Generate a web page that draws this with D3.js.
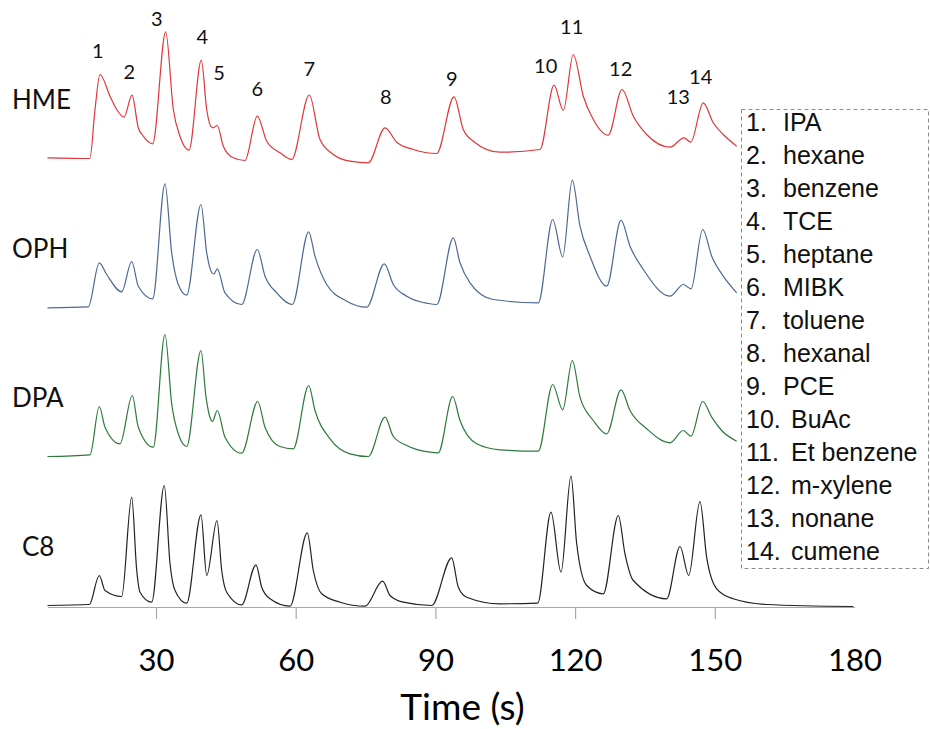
<!DOCTYPE html>
<html>
<head>
<meta charset="utf-8">
<script src="https://cdn.jsdelivr.net/npm/d3@7"></script>
<style>
  html, body { margin: 0; padding: 0; background: #ffffff; }
  svg { display: block; }
</style>
</head>
<body>
<svg id="chart" width="930" height="729"></svg>
<script>
// ---- data -------------------------------------------------------------
// Chromatograms: [time (s), detector signal (a.u., above each trace's baseline)]
const hmeTrace = [[6.7,0.7],[15.8,0],[16.9,49],[17.97,84],[20.12,62.3],[21.56,49],[23.13,41.3],[24.85,63.3],[26.2,30.7],[27.27,22.3],[29.29,14.7],[32.08,126.7],[33.72,49],[35.15,22.3],[37.09,8.3],[39.73,98.3],[40.89,49],[41.75,32.3],[42.3,30.7],[43.16,33],[44.45,12.3],[46.6,0.7],[49.11,-2],[51.75,42.3],[53.77,17.3],[56.63,5.7],[59.14,-1],[62.92,63.5],[65.22,19],[68.07,4],[71.66,-2.7],[75.59,-4.3],[79.18,30.7],[81.69,16.3],[85.25,9],[90.28,5],[93.99,61.7],[95.99,29],[98.14,17.3],[103.87,6.3],[112.46,9],[115.47,73.3],[117.47,48],[119.61,104],[121.76,62.3],[123.91,39],[127.13,23.3],[130.07,69],[132.5,42.3],[135.38,24],[140.38,11.3],[143.39,20.7],[144.83,16.3],[147.52,55.7],[149.67,35.7],[151.82,24],[154.7,12.3]];

const ophTrace = [[6.7,-0.3],[15.46,0.7],[17.82,44.7],[19.41,33],[22.63,15.7],[24.78,46],[26.2,21.3],[29.29,8.7],[31.93,123.7],[33.37,54.7],[34.79,23],[36.59,12.3],[39.66,103],[40.89,54.7],[41.96,35],[42.4,33.5],[43.16,38.7],[44.82,14.7],[48.4,3],[51.75,58],[53.41,31.3],[55.92,14.7],[59.27,3],[62.79,75.7],[64.14,51.3],[66.66,23],[70.95,6.3],[75.25,0.3],[79.03,43.7],[80.96,23],[83.84,11.3],[88.5,4],[90.3,3],[93.84,69.7],[95.28,44.7],[97.43,24.7],[102.43,8],[112.1,4.7],[115.19,88],[117.34,50.7],[119.4,127.3],[121.05,81.3],[123.2,51.3],[126.79,21.3],[129.86,87.3],[131.79,61.3],[134.65,38],[140.38,11.3],[143.24,23],[144.89,18.7],[147.4,78],[149.33,51.3],[151.82,31.3],[154.7,14.7]];

const dpaTrace = [[6.7,0],[15.83,1.7],[17.82,50],[19.05,29.3],[22.27,12.7],[24.91,61],[26.2,29.3],[29.42,9.3],[31.93,122],[33.37,52.7],[34.79,22.7],[36.59,10],[39.66,106],[40.74,59.3],[41.75,37],[42.1,35],[43.16,46],[44.82,19.3],[48.4,3.3],[51.84,55],[53.41,29.3],[56.63,10],[59.48,7.7],[62.79,71],[64.14,46],[67.37,17.7],[71.66,2.7],[75.59,0],[79.18,39.3],[80.96,20],[83.84,11],[88.84,4.3],[90.62,3.7],[93.71,60],[95.28,36],[98.87,12.7],[103.87,6.7],[112.1,5.3],[115.19,72],[117.34,46.7],[119.4,96],[121.05,59.3],[123.91,36],[126.79,22.7],[129.86,66.7],[131.79,46],[135.38,27.7],[140.38,13.7],[143.24,26],[144.89,20.3],[147.4,55],[149.33,39.3],[151.47,26],[154.7,15.3]];

const c8Trace = [[6.7,0],[15.68,1],[17.82,30],[19.05,15],[22.63,9],[24.78,108.3],[25.86,35],[26.56,13.3],[29.08,3.3],[31.78,120],[33.01,41.7],[34.08,15],[36.59,2.3],[39.66,90.7],[40.89,30],[43.1,85],[44.11,35],[45.18,13.3],[48.4,0.7],[51.47,40.7],[52.7,18.3],[54.48,6.7],[58.78,-0.7],[62.49,72.7],[63.78,35],[65.58,11.7],[69.51,3.3],[74.88,-0.7],[78.68,24.3],[80.25,10],[83.11,3.3],[89.2,0],[93.5,47.7],[94.92,18.3],[96.72,8.3],[103.87,1.7],[111.97,2.3],[114.82,93.3],[116.97,33.3],[119.12,129.3],[120.34,61.7],[122.49,20],[126.06,11.7],[129.28,90],[130.71,51.7],[132.5,25],[139.67,6.7],[142.53,59],[144.4,30],[146.82,104],[148.25,48.3],[150.4,16.7],[153.97,6.7],[161.14,1],[179.74,-1]];

const seriesNames = ["HME", "OPH", "DPA", "C8"];
const seriesData = [hmeTrace, ophTrace, dpaTrace, c8Trace];

const compounds = ["IPA", "hexane", "benzene", "TCE", "heptane", "MIBK", "toluene",
                   "hexanal", "PCE", "BuAc", "Et benzene", "m-xylene", "nonane", "cumene"];

// Peak annotations on the HME trace: time (s) and signal level of each number
const peakLabelTimes  = [17.48, 24.27, 30.15, 39.94, 43.53, 51.75, 62.92, 79.33, 93.5, 113.69, 119.27, 129.79, 142.16, 146.97];
const peakLabelLevels = [109, 87.3, 140.7, 122.3, 86.3, 70.7, 90.7, 62.3, 80.7, 93.3, 133, 90.7, 62.3, 83];

const tickValues = [30, 60, 90, 120, 150, 180];
const axisTitle = "Time (s)";

// ---- layout & style ---------------------------------------------------
const svg = d3.select("#chart");
const lineColors = ["#e0363a", "#4d6892", "#2c7a3b", "#222222"];
const baseTop = 158.5, bandStep = 149;      // baseline of first trace, spacing between traces
const axisY = 607;
const labelFont = "Lato, 'Open Sans', sans-serif";

const x = d3.scaleLinear().domain([6.7, 180]).range([47.5, 854.5]);

const yScales = seriesNames.map((_, i) => {
  const base = baseTop + i * bandStep;
  return d3.scaleLinear().domain([0, 100]).range([base, base - 100]);
});

// traces
seriesData.forEach((trace, i) => {
  const y = yScales[i];
  const line = d3.line()
    .x(d => x(d[0]))
    .y(d => y(d[1]))
    .curve(d3.curveMonotoneX);
  svg.append("path")
    .datum(trace)
    .attr("d", line)
    .attr("fill", "none")
    .attr("stroke", lineColors[i])
    .attr("stroke-width", 1.2)
    .attr("stroke-linejoin", "round");
});

// series names
const nameX = [12, 12, 12, 22];
seriesNames.forEach((name, i) => {
  svg.append("text")
    .attr("x", nameX[i])
    .attr("y", yScales[i](60))
    .attr("dominant-baseline", "central")
    .attr("font-family", labelFont)
    .attr("font-size", 26)
    .attr("fill", "#111")
    .text(name);
});

// peak numbers over the top trace
svg.append("g")
  .selectAll("text")
  .data(peakLabelTimes)
  .join("text")
  .attr("x", d => x(d))
  .attr("y", (d, i) => yScales[0](peakLabelLevels[i]))
  .attr("text-anchor", "middle")
  .attr("dominant-baseline", "central")
  .attr("font-family", labelFont)
  .attr("font-size", 20)
  .attr("fill", "#111")
  .text((d, i) => String(i + 1));

// x axis
const axis = d3.axisBottom(x)
  .tickValues(tickValues)
  .tickSizeInner(12)
  .tickSizeOuter(0)
  .tickFormat(d3.format("d"));

const gAxis = svg.append("g")
  .attr("transform", `translate(0,${axisY})`)
  .call(axis);

gAxis.select(".domain").attr("stroke", "#a8a8a8").attr("stroke-width", 1.2);
gAxis.selectAll(".tick line")
  .attr("stroke", "#a8a8a8")
  .attr("stroke-width", 1.2)
  .attr("display", d => d >= 180 ? "none" : null);
gAxis.selectAll(".tick text")
  .attr("y", 64)
  .attr("dy", 0)
  .attr("font-family", labelFont)
  .attr("font-size", 31)
  .attr("fill", "#000");

svg.append("text")
  .attr("x", 462.5)
  .attr("y", 720)
  .attr("text-anchor", "middle")
  .attr("font-family", labelFont)
  .attr("font-size", 37)
  .attr("fill", "#000")
  .text(axisTitle);

// compound key
const key = svg.append("g");
key.append("rect")
  .attr("x", 741.5).attr("y", 109.5)
  .attr("width", 187).attr("height", 459)
  .attr("fill", "#ffffff")
  .attr("stroke", "#8c8c8c")
  .attr("stroke-width", 1)
  .attr("stroke-dasharray", "4,3");

const keyRows = key.selectAll("g.row")
  .data(compounds)
  .join("g")
  .attr("class", "row")
  .attr("transform", (d, i) => `translate(0,${130.7 + i * 33})`);

keyRows.append("text")
  .attr("x", 746)
  .attr("font-family", "'Liberation Sans', Arial, sans-serif")
  .attr("font-size", 25)
  .attr("fill", "#111")
  .text((d, i) => `${i + 1}.`);

keyRows.append("text")
  .attr("x", (d, i) => i < 9 ? 783 : 791)
  .attr("font-family", "'Liberation Sans', Arial, sans-serif")
  .attr("font-size", 25)
  .attr("fill", "#111")
  .text(d => d);
</script>
</body>
</html>
